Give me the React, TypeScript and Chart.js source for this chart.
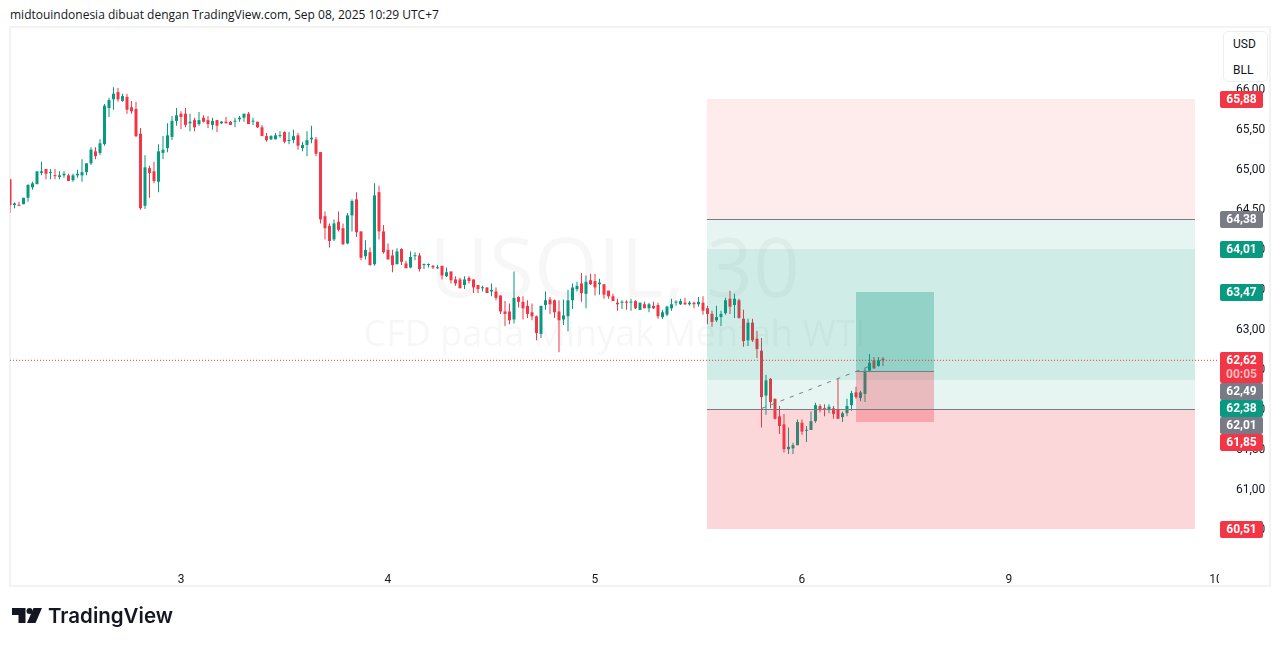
import React, { useEffect, useRef } from "react";
import { Chart, registerables } from "chart.js";

Chart.register(...registerables);

const UP = "#089981";
const DOWN = "#f23645";
const GREY = "#787b86";
const INK = "#131722";

const highs = [
  64.88,64.59,64.60,64.65,64.82,64.85,64.98,65.10,65.01,65.01,
  65.01,64.98,64.98,64.95,64.95,65.00,65.13,65.08,65.28,65.28,
  65.38,65.82,65.90,66.03,66.02,65.95,65.95,65.86,65.85,65.52,
  65.18,65.05,65.10,65.32,65.42,65.58,65.67,65.77,65.73,65.77,
  65.70,65.65,65.72,65.68,65.67,65.65,65.62,65.61,65.66,65.61,
  65.65,65.67,65.70,65.72,65.65,65.60,65.56,65.46,65.43,65.46,
  65.48,65.48,65.47,65.50,65.46,65.35,65.48,65.55,65.41,65.22,
  64.48,64.33,64.38,64.48,64.33,64.46,64.63,64.72,64.23,64.12,
  64.03,64.83,64.80,64.31,64.08,64.00,64.02,64.02,63.86,63.98,
  63.97,63.96,63.83,63.83,63.81,63.81,63.80,63.78,63.73,63.67,
  63.65,63.67,63.67,63.63,63.56,63.55,63.53,63.58,63.53,63.43,
  63.36,63.33,63.73,63.42,63.42,63.37,63.33,63.18,63.30,63.48,
  63.41,63.38,63.37,63.38,63.50,63.58,63.60,63.71,63.68,63.70,
  63.70,63.64,63.57,63.49,63.45,63.39,63.37,63.37,63.39,63.37,
  63.34,63.35,63.34,63.35,63.34,63.25,63.30,63.39,63.37,63.39,
  63.40,63.36,63.35,63.41,63.42,63.30,63.24,63.30,63.24,63.40,
  63.49,63.45,63.39,63.25,63.14,63.14,62.99,62.90,62.44,62.40,
  62.14,62.05,61.95,61.78,61.59,61.88,61.88,61.80,61.98,62.09,
  62.07,62.07,62.07,62.05,62.39,61.98,62.14,62.24,62.29,62.24,
  62.52,62.70,62.66,62.66,62.66,
];

const lows = [
  64.46,64.52,64.55,64.57,64.60,64.75,64.82,64.93,64.88,64.88,
  64.88,64.88,64.90,64.86,64.85,64.90,64.85,64.93,65.06,65.13,
  65.18,65.30,65.66,65.75,65.85,65.85,65.70,65.70,65.41,64.50,
  64.51,64.65,64.83,64.72,65.13,65.22,65.37,65.55,65.51,65.53,
  65.48,65.48,65.55,65.59,65.52,65.50,65.47,65.57,65.58,65.56,
  65.53,65.60,65.60,65.57,65.56,65.52,65.42,65.35,65.37,65.38,
  65.40,65.33,65.32,65.33,65.25,65.23,65.17,65.33,65.17,64.33,
  64.13,64.03,64.11,64.23,64.06,64.07,64.23,64.16,63.87,63.88,
  63.80,63.80,64.13,63.95,63.88,63.72,63.82,63.81,63.77,63.77,
  63.87,63.73,63.76,63.78,63.76,63.76,63.63,63.66,63.58,63.55,
  63.52,63.51,63.58,63.46,63.46,63.48,63.46,63.42,63.37,63.20,
  63.05,63.07,63.08,63.28,63.13,63.15,63.12,62.87,62.90,63.25,
  63.20,63.15,62.72,63.06,62.98,63.26,63.48,63.35,63.27,63.56,
  63.43,63.44,63.39,63.39,63.36,63.24,63.26,63.25,63.24,63.26,
  63.25,63.27,63.22,63.26,63.14,63.14,63.17,63.24,63.30,63.31,
  63.31,63.30,63.27,63.29,63.19,63.07,63.04,63.10,63.05,63.19,
  63.20,63.15,63.14,62.79,62.80,62.85,62.65,61.78,61.94,62.02,
  61.88,61.70,61.47,61.45,61.45,61.56,61.69,61.60,61.75,61.84,
  61.97,61.92,61.96,61.89,61.89,61.85,61.92,61.99,62.14,62.11,
  62.10,62.49,62.51,62.54,62.55,
];

const opens = [
  64.88,64.56,64.56,64.57,64.65,64.78,64.82,64.96,65.01,64.96,
  64.93,64.91,64.93,64.93,64.87,64.93,64.93,64.97,65.08,65.23,
  65.21,65.32,65.77,65.88,65.97,65.86,65.91,65.78,65.76,65.45,
  64.55,65.02,64.98,64.85,65.21,65.27,65.41,65.61,65.70,65.70,
  65.58,65.62,65.57,65.65,65.62,65.56,65.62,65.58,65.60,65.60,
  65.60,65.63,65.65,65.70,65.60,65.60,65.53,65.42,65.38,65.38,
  65.42,65.47,65.36,65.37,65.43,65.27,65.31,65.38,65.38,65.22,
  64.42,64.30,64.13,64.35,64.27,64.08,64.43,64.63,64.23,63.92,
  63.97,63.82,64.72,64.23,64.00,63.93,63.82,64.01,63.83,63.78,
  63.92,63.93,63.81,63.81,63.80,63.77,63.80,63.67,63.73,63.63,
  63.63,63.56,63.65,63.63,63.56,63.52,63.53,63.48,63.48,63.43,
  63.23,63.23,63.13,63.41,63.35,63.30,63.22,63.17,62.95,63.31,
  63.38,63.37,63.23,63.13,63.17,63.37,63.51,63.58,63.45,63.62,
  63.61,63.57,63.57,63.49,63.42,63.34,63.34,63.35,63.34,63.36,
  63.25,63.32,63.27,63.30,63.31,63.16,63.19,63.27,63.34,63.32,
  63.34,63.32,63.34,63.32,63.34,63.27,63.20,63.12,63.16,63.21,
  63.39,63.31,63.37,63.14,62.87,63.09,62.89,62.74,62.18,62.39,
  62.14,61.92,61.82,61.51,61.52,61.56,61.84,61.74,61.75,61.86,
  62.05,62.02,62.01,62.02,62.00,61.91,61.96,62.06,62.22,62.15,
  62.20,62.49,62.62,62.55,62.64,
];

const closes = [
  64.56,64.58,64.55,64.65,64.81,64.83,64.98,64.98,64.95,64.97,
  64.92,64.93,64.95,64.86,64.93,64.95,64.97,65.08,65.25,65.17,
  65.33,65.80,65.87,65.95,65.88,65.92,65.75,65.73,65.42,64.52,
  65.03,64.96,64.86,65.23,65.25,65.43,65.61,65.68,65.66,65.56,
  65.60,65.53,65.62,65.60,65.57,65.61,65.55,65.60,65.58,65.56,
  65.61,65.65,65.70,65.57,65.61,65.53,65.42,65.37,65.42,65.43,
  65.43,65.35,65.37,65.42,65.30,65.31,65.37,65.40,65.20,64.38,
  64.27,64.11,64.33,64.25,64.07,64.43,64.61,64.22,63.90,64.00,
  63.81,64.68,64.23,63.97,63.88,63.81,63.98,63.85,63.77,63.91,
  63.93,63.76,63.82,63.82,63.78,63.78,63.68,63.72,63.62,63.58,
  63.52,63.63,63.61,63.53,63.51,63.53,63.46,63.50,63.40,63.23,
  63.20,63.12,63.40,63.35,63.27,63.20,63.17,62.96,63.30,63.37,
  63.32,63.22,63.12,63.18,63.37,63.53,63.55,63.46,63.60,63.57,
  63.53,63.59,63.44,63.42,63.36,63.32,63.35,63.34,63.35,63.27,
  63.34,63.27,63.32,63.27,63.17,63.22,63.29,63.32,63.35,63.36,
  63.32,63.34,63.32,63.35,63.24,63.20,63.10,63.16,63.20,63.37,
  63.29,63.39,63.15,62.86,63.09,62.87,62.76,62.16,62.37,62.10,
  61.89,61.80,61.51,61.54,61.56,61.85,61.73,61.75,61.86,62.06,
  62.00,62.01,62.04,61.95,61.89,61.96,62.05,62.21,62.16,62.22,
  62.49,62.59,62.52,62.62,62.62,
];

const dayTicks = [38, 84, 130, 176, 222, 268];
const dayLabels = ["3", "4", "5", "6", "9", "10"];
const priceTicks = [66, 65.5, 65, 64.5, 64, 63.5, 63, 62.5, 62, 61.5, 61, 60.5];

const lastPrice = 62.62;
const countdown = "00:05";
const trendX = [167.1, 190.7];
const trendY = [62.02, 62.54];

const bigBoxX = [154.9, 263.3];
const smallBoxX = [188, 205.3];
const bigStop = 65.88;
const bigEntry = 64.38;
const bigExit = 62.01;
const bigTarget = 60.51;
const innerTop = 64.01;
const innerBottom = 62.37;
const smallTop = 63.47;
const smallEntry = 62.49;
const smallBottom = 61.85;

const pillPrices = [65.88, 64.38, 64.01, 63.47, 62.62, 62.49, 62.38, 62.01, 61.85, 60.51];
const pillColors = [DOWN, GREY, UP, UP, DOWN, GREY, UP, GREY, DOWN, DOWN];

const comma = (v: number) => v.toFixed(2).replace(".", ",");

const overlayPlugin = {
  id: "overlays",
  beforeDatasetsDraw(chart: any) {
    const { ctx, scales } = chart;
    const { left, right, top, bottom } = chart.chartArea;
    ctx.save();
    // the last day label is cut off at the price axis
    ctx.fillStyle = "#ffffff";
    ctx.fillRect(right, bottom + 1, 50, 28);
    ctx.beginPath();
    ctx.rect(left, top, right - left, bottom - top);
    ctx.clip();
    ctx.textAlign = "center";
    ctx.textBaseline = "alphabetic";
    ctx.fillStyle = "rgba(19,23,34,0.035)";
    const cx = (left + right) / 2;
    ctx.font = '82px "Open Sans"';
    ctx.fillText("USOIL, 30", cx, scales.y.getPixelForValue(63.41));
    ctx.font = '36px "Open Sans"';
    ctx.fillText("CFD pada Minyak Mentah WTI", cx, scales.y.getPixelForValue(62.8));
    ctx.restore();
  },
  afterDatasetDraw(chart: any, args: any) {
    if (args.index !== 1) return;
    const { ctx, scales } = chart;
    const px = (v: number) => Math.round(scales.x.getPixelForValue(v));
    const py = (v: number) => Math.round(scales.y.getPixelForValue(v));
    const band = (xs: number[], a: number, b: number, color: string) => {
      ctx.fillStyle = color;
      ctx.fillRect(px(xs[0]), py(a), px(xs[1]) - px(xs[0]), py(b) - py(a));
    };
    const rule = (xs: number[], v: number) => {
      ctx.fillStyle = GREY;
      ctx.fillRect(px(xs[0]), py(v), px(xs[1]) - px(xs[0]), 1);
    };
    ctx.save();
    band(bigBoxX, bigStop, bigEntry, "rgba(242,54,69,0.1)");
    band(bigBoxX, bigEntry, bigExit, "rgba(8,153,129,0.1)");
    band(bigBoxX, innerTop, innerBottom, "rgba(8,153,129,0.1)");
    band(bigBoxX, bigExit, bigTarget, "rgba(242,54,69,0.2)");
    band(smallBoxX, smallTop, smallEntry, "rgba(8,153,129,0.3)");
    band(smallBoxX, smallEntry, smallBottom, "rgba(242,54,69,0.3)");
    rule(bigBoxX, bigEntry);
    rule(bigBoxX, bigExit);
    rule(smallBoxX, smallEntry);
    ctx.restore();
  },
  afterDraw(chart: any) {
    const { ctx, scales } = chart;
    const pillX = 1220;
    const pillW = 43;
    const h = 17;
    let floor = -Infinity;
    ctx.save();
    ctx.textAlign = "center";
    ctx.textBaseline = "middle";
    pillPrices.forEach((price, i) => {
      const y = scales.y.getPixelForValue(price);
      const top = Math.round(Math.max(floor, y - h / 2));
      const isLast = price === lastPrice;
      const height = isLast ? 31 : h;
      ctx.fillStyle = pillColors[i];
      ctx.beginPath();
      ctx.roundRect(pillX, top, pillW, height, 2);
      ctx.fill();
      ctx.fillStyle = "#ffffff";
      ctx.font = 'bold 12px Roboto';
      ctx.fillText(comma(price), pillX + pillW / 2, top + 8.5);
      if (isLast) {
        ctx.fillStyle = "rgba(255,255,255,0.65)";
        ctx.fillText(countdown, pillX + pillW / 2, top + 22.5);
      }
      floor = top + height;
    });
    ctx.restore();
  },
};

export default function App() {
  const ref = useRef<HTMLCanvasElement | null>(null);

  useEffect(() => {
    if (!ref.current) return;
    const xs = highs.map((_, i) => i);
    const xMax = 268.67;
    const chart = new Chart(ref.current, {
      type: "bar",
      data: {
        datasets: [
          {
            type: "bar",
            order: 3,
            grouped: false,
            barThickness: 1,
            inflateAmount: 0,
            data: xs.map((i) => ({ x: i, y: [lows[i], highs[i]] })),
            backgroundColor: xs.map((i) => (closes[i] >= opens[i] ? UP : DOWN)),
          },
          {
            type: "bar",
            order: 2,
            grouped: false,
            barThickness: 3,
            inflateAmount: 0,
            minBarLength: 1,
            data: xs.map((i) => ({ x: i, y: [opens[i], closes[i]] })),
            backgroundColor: xs.map((i) => (closes[i] >= opens[i] ? UP : DOWN)),
          },
          {
            type: "line",
            order: 1,
            data: trendX.map((x, i) => ({ x, y: trendY[i] })),
            borderColor: GREY,
            borderWidth: 1,
            borderDash: [4, 6],
            pointRadius: 0,
          },
          {
            type: "line",
            order: 0,
            data: [
              { x: 0, y: lastPrice },
              { x: xMax, y: lastPrice },
            ],
            borderColor: DOWN,
            borderWidth: 1,
            borderDash: [1, 2],
            pointRadius: 0,
          },
        ],
      } as any,
      options: {
        responsive: false,
        animation: false,
        events: [],
        layout: { padding: { left: 10, right: 10, top: 28, bottom: 61 } },
        plugins: { legend: { display: false }, tooltip: { enabled: false } },
        scales: {
          x: {
            type: "linear",
            offset: false,
            min: 0,
            max: xMax,
            grid: { display: false },
            border: { display: false },
            afterBuildTicks: (s: any) => {
              s.ticks = dayTicks.map((value) => ({ value }));
            },
            afterFit: (s: any) => {
              s.height = 30;
            },
            ticks: {
              autoSkip: false,
              maxRotation: 0,
              padding: 10,
              color: INK,
              font: { family: "Roboto", size: 12 },
              callback: (v: any) => dayLabels[dayTicks.indexOf(Number(v))] ?? "",
            },
          },
          y: {
            type: "linear",
            position: "right",
            min: 60.1886,
            max: 66.7703,
            grid: { display: false },
            border: { display: false },
            afterBuildTicks: (s: any) => {
              s.ticks = priceTicks.map((value) => ({ value }));
            },
            afterFit: (s: any) => {
              s.width = 52;
            },
            ticks: {
              autoSkip: false,
              padding: 9,
              color: INK,
              font: { family: "Roboto", size: 12 },
              callback: (v: any) => comma(Number(v)),
            },
          },
        },
      } as any,
      plugins: [overlayPlugin],
    });
    return () => chart.destroy();
  }, []);

  return (
    <div style={{ position: "fixed", left: 0, top: 0, width: 1281, height: 646, background: "#fff", overflow: "hidden" }}>
      <div
        style={{
          position: "absolute",
          left: 10,
          top: 7,
          font: '12px "Open Sans"',
          lineHeight: "16px",
          color: INK,
          whiteSpace: "nowrap",
        }}
      >
        midtouindonesia dibuat dengan TradingView.com, Sep 08, 2025 10:29 UTC+7
      </div>
      <div
        style={{
          position: "absolute",
          left: 9,
          top: 26,
          width: 1262,
          height: 561,
          boxSizing: "border-box",
          border: "2px solid #f3f3f4",
        }}
      />
      <canvas ref={ref} width={1281} height={646} style={{ position: "absolute", left: 0, top: 0, display: "block" }} />
      <div
        style={{
          position: "absolute",
          left: 1223,
          top: 31,
          width: 45,
          height: 51,
          boxSizing: "border-box",
          background: "#fff",
          border: "1px solid #eceef1",
          borderRadius: 5,
          color: INK,
          font: "12px Roboto",
        }}
      >
        <div style={{ position: "absolute", left: 9, top: 5, lineHeight: "14px" }}>USD</div>
        <div style={{ position: "absolute", left: 9, top: 31, lineHeight: "14px" }}>BLL</div>
      </div>
      <svg width={32} height={18} viewBox="0 0 32 18" style={{ position: "absolute", left: 11, top: 607 }}>
        <path d="M1 1H14.5V16H7.5V8H1Z" fill="#131722" />
        <circle cx="18.5" cy="4" r="3" fill="#131722" />
        <path d="M22.5 1H31L24.5 16H16Z" fill="#131722" />
      </svg>
      <div
        style={{
          position: "absolute",
          left: 48,
          top: 603,
          font: '600 20.5px Inter',
          lineHeight: "26px",
          color: "#131722",
          whiteSpace: "nowrap",
        }}
      >
        TradingView
      </div>
    </div>
  );
}
